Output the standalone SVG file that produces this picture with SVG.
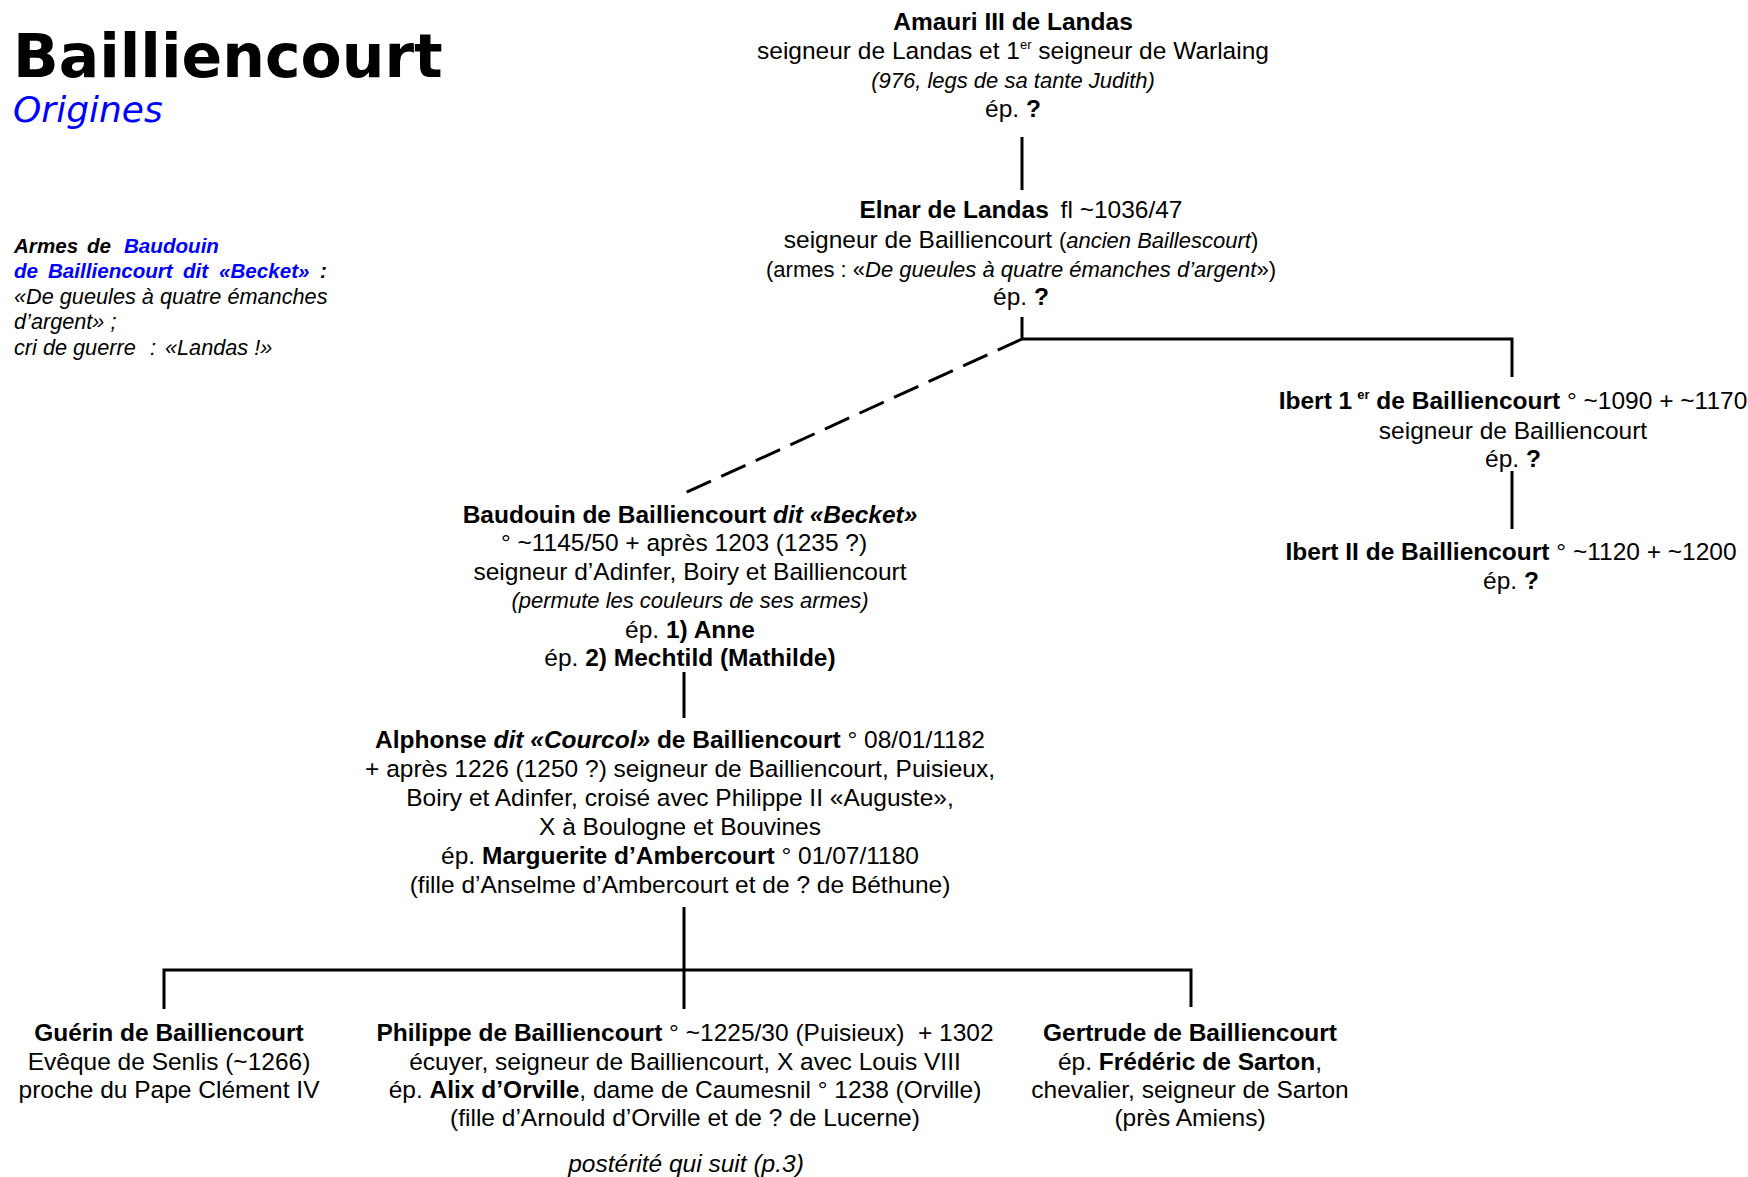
<svg xmlns="http://www.w3.org/2000/svg" width="1748" height="1177" viewBox="0 0 1748 1177">
<style>
.t{font-family:"Liberation Sans",Arial,sans-serif;font-size:24.5px;fill:#000;text-anchor:middle}
.b{font-weight:bold}
.i{font-style:italic}
.s{font-size:22px}
.sup{font-size:13px}
.blue{fill:#0000FF}
.note{font-family:"Liberation Sans",Arial,sans-serif;font-size:21.7px;font-style:italic;fill:#000}
.nb{font-weight:bold;font-size:20.6px}
.ln{stroke:#000;stroke-width:3;fill:none}
.dash{stroke:#000;stroke-width:3;fill:none;stroke-dasharray:26.7 11.3}
</style>
<rect width="1748" height="1177" fill="#fff"/>
<g id="title">
<text x="13" y="77" style="font-family:'DejaVu Sans',Verdana,sans-serif;font-weight:bold;font-size:60px">Bailliencourt</text>
<text x="13" y="122" class="blue" style="font-family:'DejaVu Sans',Verdana,sans-serif;font-style:oblique;font-size:36px">Origines</text>
</g>
<g id="armes-note" class="note">
<text y="252.5" class="nb"><tspan x="14">Armes</tspan><tspan x="87">de</tspan><tspan x="124" class="blue">Baudouin</tspan></text>
<text y="278" class="nb"><tspan x="14" class="blue">de</tspan><tspan x="48" class="blue">Bailliencourt</tspan><tspan x="183" class="blue">dit</tspan><tspan x="219" class="blue">«Becket»</tspan><tspan x="320">:</tspan></text>
<text x="14" y="303.5">«De gueules à quatre émanches</text>
<text x="14" y="329">d’argent» ;</text>
<text y="354.5"><tspan x="14">cri de guerre</tspan><tspan x="150">:</tspan><tspan x="165">«Landas !»</tspan></text>
</g>
<g id="connectors">
<line class="ln" x1="1022" y1="137" x2="1022" y2="190"/>
<polyline class="ln" points="1022,317 1022,339 1512,339 1512,377"/>
<line class="dash" x1="1022" y1="339" x2="686" y2="492.5"/>
<line class="ln" x1="1512" y1="471" x2="1512" y2="529"/>
<line class="ln" x1="684" y1="672" x2="684" y2="718"/>
<line class="ln" x1="684" y1="907" x2="684" y2="1009"/>
<polyline class="ln" points="164,1009 164,970 1191,970 1191,1007"/>
</g>
<g id="amauri" class="t">
<text x="1013" y="30" class="b">Amauri III de Landas</text>
<text x="1013" y="59">seigneur de Landas et 1<tspan class="sup" dy="-10">er</tspan><tspan dy="10"> seigneur de Warlaing</tspan></text>
<text x="1013" y="88" class="i s">(976, legs de sa tante Judith)</text>
<text x="1013" y="117">ép. <tspan class="b">?</tspan></text>
</g>
<g id="elnar" class="t">
<text x="1021" y="218"><tspan class="b">Elnar de Landas</tspan><tspan dx="5"> fl ~1036/47</tspan></text>
<text x="1021" y="248">seigneur de Bailliencourt <tspan class="s">(</tspan><tspan class="i s">ancien Baillescourt</tspan><tspan class="s">)</tspan></text>
<text x="1021" y="277" class="s">(armes : «<tspan class="i">De gueules à quatre émanches d’argent</tspan>»)</text>
<text x="1021" y="305">ép. <tspan class="b">?</tspan></text>
</g>
<g id="ibert1" class="t">
<text x="1513" y="408.5"><tspan class="b">Ibert 1</tspan><tspan class="sup b" dx="5" dy="-10">er</tspan><tspan class="b" dy="10"> de Bailliencourt</tspan> ° ~1090 + ~1170</text>
<text x="1513" y="438.5">seigneur de Bailliencourt</text>
<text x="1513" y="466.5">ép. <tspan class="b">?</tspan></text>
</g>
<g id="ibert2" class="t">
<text x="1511" y="560"><tspan class="b">Ibert II de Bailliencourt</tspan> ° ~1120 + ~1200</text>
<text x="1511" y="589">ép. <tspan class="b">?</tspan></text>
</g>
<g id="baudouin" class="t">
<text x="690" y="523" class="b">Baudouin de Bailliencourt <tspan class="i">dit «Becket»</tspan></text>
<text x="684" y="551">° ~1145/50 + après 1203 (1235 ?)</text>
<text x="690" y="580">seigneur d’Adinfer, Boiry et Bailliencourt</text>
<text x="690" y="608" class="i s">(permute les couleurs de ses armes)</text>
<text x="690" y="638">ép. <tspan class="b">1) Anne</tspan></text>
<text x="690" y="666">ép. <tspan class="b">2) Mechtild (Mathilde)</tspan></text>
</g>
<g id="alphonse" class="t">
<text x="680" y="748"><tspan class="b">Alphonse </tspan><tspan class="b i">dit «Courcol»</tspan><tspan class="b"> de Bailliencourt</tspan> ° 08/01/1182</text>
<text x="680" y="777">+ après 1226 (1250 ?) seigneur de Bailliencourt, Puisieux,</text>
<text x="680" y="806">Boiry et Adinfer, croisé avec Philippe II «Auguste»,</text>
<text x="680" y="835">X à Boulogne et Bouvines</text>
<text x="680" y="864">ép. <tspan class="b">Marguerite d’Ambercourt</tspan> ° 01/07/1180</text>
<text x="680" y="893">(fille d’Anselme d’Ambercourt et de ? de Béthune)</text>
</g>
<g id="guerin" class="t">
<text x="169" y="1040.5" class="b">Guérin de Bailliencourt</text>
<text x="169" y="1069.5">Evêque de Senlis (~1266)</text>
<text x="169" y="1097.5">proche du Pape Clément IV</text>
</g>
<g id="philippe" class="t">
<text x="685" y="1040.5" xml:space="preserve"><tspan class="b">Philippe de Bailliencourt</tspan> ° ~1225/30 (Puisieux)  + 1302</text>
<text x="685" y="1069.5">écuyer, seigneur de Bailliencourt, X avec Louis VIII</text>
<text x="685" y="1097.5">ép. <tspan class="b">Alix d’Orville</tspan>, dame de Caumesnil ° 1238 (Orville)</text>
<text x="685" y="1126">(fille d’Arnould d’Orville et de ? de Lucerne)</text>
<text x="686" y="1172" class="i">postérité qui suit (p.3)</text>
</g>
<g id="gertrude" class="t">
<text x="1190" y="1040.5" class="b">Gertrude de Bailliencourt</text>
<text x="1190" y="1069.5">ép. <tspan class="b">Frédéric de Sarton</tspan>,</text>
<text x="1190" y="1097.5">chevalier, seigneur de Sarton</text>
<text x="1190" y="1126">(près Amiens)</text>
</g>
</svg>
